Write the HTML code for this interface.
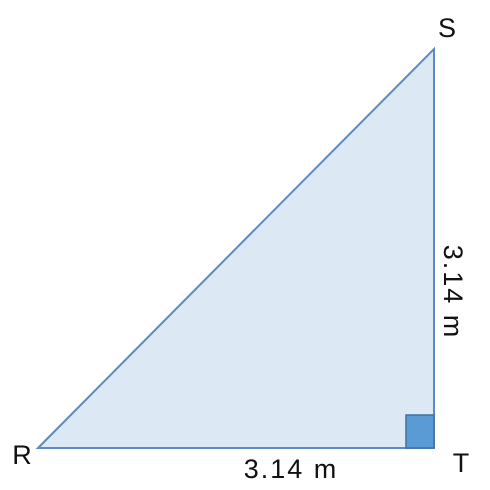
<!DOCTYPE html>
<html><head><style>body{margin:0;background:#fff}svg{display:block}</style></head>
<body>
<svg width="490" height="490">
<polygon points="38,448 434,49 434,448" fill="#dde8f5" stroke="#5b8ac4" stroke-width="2"/>
<rect x="406" y="415" width="28" height="33" fill="#5b9bd5" stroke="#41719c" stroke-width="1.5"/>
<g font-family="Liberation Sans, sans-serif" font-size="27" fill="#111">
<text x="447" y="37" text-anchor="middle">S</text>
<text x="22" y="464" text-anchor="middle">R</text>
<text x="461" y="472" text-anchor="middle">T</text>
<text x="291" y="478" text-anchor="middle" letter-spacing="2">3.14 m</text>
<text transform="translate(444,292) rotate(90)" text-anchor="middle" letter-spacing="2">3.14 m</text>
</g>
</svg>
</body></html>
